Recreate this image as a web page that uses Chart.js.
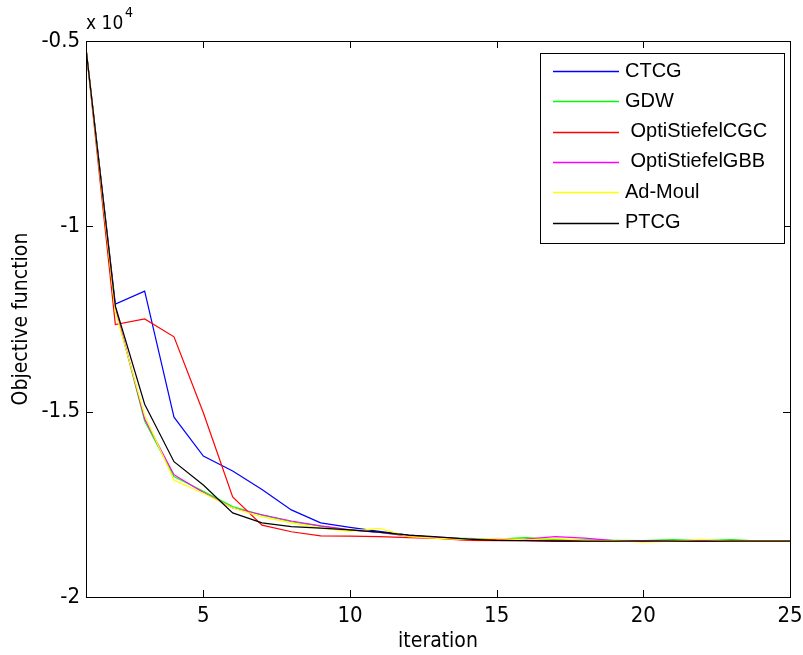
<!DOCTYPE html>
<html>
<head>
<meta charset="utf-8">
<script src="https://cdn.jsdelivr.net/npm/chart.js@4"></script>
<style>
  html, body { margin: 0; padding: 0; background: #fff; }
  #wrap { width: 803px; height: 655px; }
</style>
</head>
<body>
<div id="wrap"><canvas id="chart" width="803" height="655"></canvas></div>
<script>
// iteration index
var iterations = [1, 2, 3, 4, 5, 6, 7, 8, 9, 10, 11, 12, 13, 14, 15, 16, 17, 18, 19, 20, 21, 22, 23, 24, 25];

// objective value per iteration
var ctcg = [-5200, -12100, -11750, -15150, -16200, -16600, -17100, -17650, -18000, -18120, -18230, -18330, -18400, -18430, -18450, -18460, -18470, -18480, -18485, -18490, -18490, -18490, -18490, -18490, -18490];
var gdw = [-5200, -12200, -15250, -16750, -17150, -17560, -17790, -17970, -18090, -18190, -18260, -18360, -18410, -18420, -18440, -18400, -18450, -18460, -18470, -18480, -18450, -18480, -18450, -18490, -18490];
var optiCGC = [-5200, -12650, -12500, -12980, -15030, -17300, -18060, -18240, -18350, -18360, -18370, -18400, -18420, -18470, -18480, -18480, -18490, -18490, -18490, -18490, -18490, -18490, -18490, -18490, -18490];
var optiGBB = [-5200, -12200, -15200, -16700, -17180, -17600, -17780, -17950, -18080, -18190, -18260, -18350, -18400, -18430, -18450, -18440, -18370, -18410, -18480, -18490, -18490, -18490, -18490, -18490, -18490];
var adMoul = [-5200, -12300, -15100, -16850, -17200, -17600, -17840, -18000, -18140, -18230, -18150, -18370, -18420, -18450, -18420, -18460, -18420, -18470, -18480, -18520, -18490, -18450, -18490, -18490, -18490];
var ptcg = [-5200, -12150, -14800, -16350, -16980, -17730, -18000, -18100, -18140, -18190, -18250, -18330, -18380, -18440, -18470, -18480, -18490, -18490, -18490, -18490, -18490, -18490, -18490, -18490, -18490];

var xTicks = [5, 10, 15, 20, 25];
var yTicks = [-20000, -15000, -10000, -5000];

var narrow = "'Liberation Sans Narrow', 'DejaVu Sans Condensed', 'Liberation Sans', Arial, sans-serif";
var plain = "'Liberation Sans', Arial, sans-serif";

function series(label, data, color, order) {
    return {
        label: label,
        data: data,
        borderColor: color,
        backgroundColor: color,
        borderWidth: 1.2,
        pointRadius: 0,
        tension: 0,
        fill: false,
        order: order
    };
}

// MATLAB style box, inward ticks, exponent label, axis titles and legend
var matlabDecor = {
    id: 'matlabDecor',
    afterDraw: function (chart) {
        var c = chart.ctx;
        var a = chart.chartArea;
        var xs = chart.scales.x, ys = chart.scales.y;
        c.save();
        c.strokeStyle = '#000';
        c.lineWidth = 1;
        c.strokeRect(Math.round(a.left) + 0.5, Math.round(a.top) + 0.5, Math.round(a.right - a.left), Math.round(a.bottom - a.top));
        var tl = 7;
        c.beginPath();
        xTicks.forEach(function (v) {
            var px = Math.round(xs.getPixelForValue(v)) + 0.5;
            c.moveTo(px, a.bottom); c.lineTo(px, a.bottom - tl);
            c.moveTo(px, a.top); c.lineTo(px, a.top + tl);
        });
        yTicks.forEach(function (v) {
            var py = Math.round(ys.getPixelForValue(v)) + 0.5;
            c.moveTo(a.left, py); c.lineTo(a.left + tl, py);
            c.moveTo(a.right, py); c.lineTo(a.right - tl, py);
        });
        c.stroke();

        c.fillStyle = '#000';
        c.font = '19px ' + narrow;
        c.textBaseline = 'alphabetic';
        c.textAlign = 'left';
        c.fillText('x 10', a.left, 29);
        c.font = '14px ' + narrow;
        c.fillText('4', a.left + 39, 17);

        c.font = '21px ' + narrow;
        c.textAlign = 'center';
        c.fillText('iteration', (a.left + a.right) / 2, 647);
        c.save();
        c.translate(27, (a.top + a.bottom) / 2);
        c.rotate(-Math.PI / 2);
        c.fillText('Objective function', 0, 0);
        c.restore();

        // legend
        var lx = 540, ly = 53, lw = 244, lh = 190;
        c.fillStyle = '#fff';
        c.fillRect(lx, ly, lw, lh);
        c.strokeRect(lx + 0.5, ly + 0.5, lw, lh);
        c.font = '20px ' + plain;
        c.textAlign = 'left';
        c.textBaseline = 'middle';
        chart.data.datasets.forEach(function (ds, i) {
            var yy = 71 + i * 30.3;
            c.strokeStyle = ds.borderColor;
            c.lineWidth = 1.3;
            c.beginPath();
            c.moveTo(553, Math.round(yy) + 0.5);
            c.lineTo(619, Math.round(yy) + 0.5);
            c.stroke();
            c.fillStyle = '#000';
            c.fillText(ds.label, 625, yy);
        });
        c.restore();
    }
};

new Chart(document.getElementById('chart').getContext('2d'), {
    type: 'line',
    data: {
        labels: iterations,
        datasets: [
            series('CTCG', ctcg, '#0000ff', 6),
            series('GDW', gdw, '#00ff00', 5),
            series(' OptiStiefelCGC', optiCGC, '#ff0000', 4),
            series(' OptiStiefelGBB', optiGBB, '#ff00ff', 3),
            series('Ad-Moul', adMoul, '#ffff00', 2),
            series('PTCG', ptcg, '#000000', 1)
        ]
    },
    options: {
        responsive: false,
        animation: false,
        layout: { padding: { left: 0, right: 13, top: 41, bottom: 0 } },
        plugins: { legend: { display: false }, tooltip: { enabled: false } },
        scales: {
            x: {
                type: 'linear',
                min: 1,
                max: 25,
                grid: { display: false, drawTicks: false },
                border: { display: false },
                afterBuildTicks: function (scale) {
                    scale.ticks = xTicks.map(function (v) { return { value: v }; });
                },
                afterFit: function (scale) {
                    scale.height = 58;
                    scale.paddingLeft = 0;
                    scale.paddingRight = 0;
                },
                ticks: {
                    padding: 6,
                    color: '#000',
                    font: { family: narrow, size: 22 },
                    maxRotation: 0,
                    autoSkip: false
                }
            },
            y: {
                type: 'linear',
                min: -20000,
                max: -5000,
                grid: { display: false, drawTicks: false },
                border: { display: false },
                afterBuildTicks: function (scale) {
                    scale.ticks = yTicks.map(function (v) { return { value: v }; });
                },
                afterFit: function (scale) {
                    scale.width = 86;
                    scale.paddingTop = 0;
                    scale.paddingBottom = 0;
                },
                ticks: {
                    padding: 6,
                    color: '#000',
                    font: { family: narrow, size: 22 },
                    callback: function (v) { return String(v / 10000); }
                }
            }
        }
    },
    plugins: [matlabDecor]
});
</script>
</body>
</html>
